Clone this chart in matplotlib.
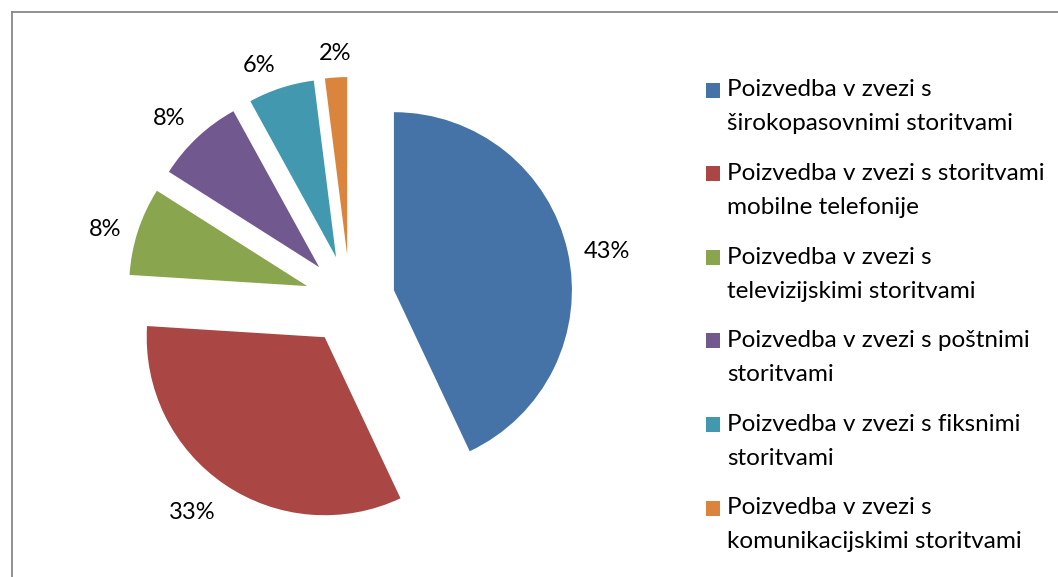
import math
import matplotlib
matplotlib.use("Agg")
import matplotlib.pyplot as plt
from matplotlib.patches import Rectangle
from matplotlib.lines import Line2D

categories = [
    ["Poizvedba v zvezi s", "širokopasovnimi storitvami"],
    ["Poizvedba v zvezi s storitvami", "mobilne telefonije"],
    ["Poizvedba v zvezi s", "televizijskimi storitvami"],
    ["Poizvedba v zvezi s poštnimi", "storitvami"],
    ["Poizvedba v zvezi s fiksnimi", "storitvami"],
    ["Poizvedba v zvezi s", "komunikacijskimi storitvami"],
]
values = [43, 33, 8, 8, 6, 2]
colors = ["#4572A7", "#AA4643", "#89A54E", "#71588F", "#4198AF", "#DB843D"]

W, H = 1058, 577
FONT = ["Lato", "DejaVu Sans"]

fig = plt.figure(figsize=(W / 100, H / 100), dpi=100)
ax = fig.add_axes([0, 0, 1, 1])

def Y(p):
    return H - p

cx, cy, R, EXPL, GAP, DROP = 350, 300, 178, 45, 17, 4
wedges, texts, autotexts = ax.pie(
    values, colors=colors, startangle=90, counterclock=False,
    explode=[EXPL] * len(values), radius=R, center=(cx, Y(cy)),
    autopct="%1.0f%%", pctdistance=1.2,
    wedgeprops=dict(linewidth=0), frame=True,
)
# "outside end" placement: label box touches a ring just outside the slice
for w, t in zip(wedges, autotexts):
    th = math.radians((w.theta1 + w.theta2) / 2)
    c, s = math.cos(th), math.sin(th)
    d = EXPL + R + GAP
    t.set_position((cx + d * c, Y(cy) + d * s - DROP))
    t.set_ha("center" if abs(c) < 0.15 else ("left" if c > 0 else "right"))
    t.set_va("center" if abs(s) < 0.4 else ("bottom" if s > 0 else "top"))
    t.set_fontfamily(FONT)
    t.set_fontsize(17)
    t.set_color("black")

ax.set_xlim(0, W)
ax.set_ylim(0, H)
ax.set_aspect("equal")
ax.axis("off")

# chart border
ax.add_line(Line2D([12, W + 5], [Y(12), Y(12)], color="#888888", lw=1.3))
ax.add_line(Line2D([12, 12], [Y(12), -5], color="#888888", lw=1.3))

# legend
y0, step, lstep = 90, 83.6, 34
for i, (lines, c) in enumerate(zip(categories, colors)):
    yy = y0 + step * i
    ax.add_patch(Rectangle((706, Y(yy) - 7.5), 14, 15, facecolor=c, edgecolor="none"))
    for j, t in enumerate(lines):
        ax.text(727, Y(yy + lstep * j), t, fontsize=17.5, family=FONT,
                va="center", ha="left", color="black")

fig.savefig("out.png", dpi=100)
